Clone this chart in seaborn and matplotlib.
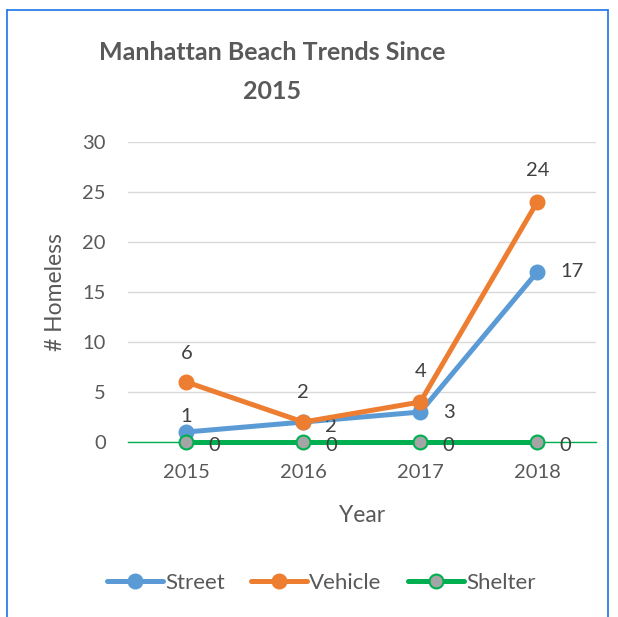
import matplotlib
matplotlib.use("Agg")
import matplotlib.pyplot as plt
import seaborn as sns
from matplotlib.lines import Line2D

years = ["2015", "2016", "2017", "2018"]
street = [1, 2, 3, 17]
vehicle = [6, 2, 4, 24]
shelter = [0, 0, 0, 0]

# label offsets in pixels (dx, dy) per point
street_offsets = [(0, 16), (28, -4), (29, 0), (35, 0)]
vehicle_offsets = [(0, 29), (0, 30), (0, 31), (0, 31)]
shelter_offsets = [(28, -3), (28, -3), (28, -3), (28, -3)]

sns.set_theme(style="white")
plt.rcParams["font.family"] = ["Lato", "DejaVu Sans"]

fig = plt.figure(figsize=(6.18, 6.17), dpi=100)
ax = fig.add_axes([0.207, 0.2836, 0.757, 0.4863])

text_col = "#595959"
x = list(range(len(years)))

series = [
    ("Street", street, "#5B9BD5", "#5B9BD5", "#5B9BD5", street_offsets),
    ("Vehicle", vehicle, "#ED7D31", "#ED7D31", "#ED7D31", vehicle_offsets),
    ("Shelter", shelter, "#00B050", "#A5A5A5", "#00B050", shelter_offsets),
]

for name, vals, lc, mfc, mec, offs in series:
    sns.lineplot(x=x, y=vals, ax=ax, color=lc, linewidth=3.6, marker="o",
                 markersize=10, markerfacecolor=mfc, markeredgecolor=mec,
                 markeredgewidth=1.5, label=name, zorder=3, clip_on=False)
    for xi, v, (dx, dy) in zip(x, vals, offs):
        ax.annotate(str(v), (xi, v), xytext=(dx, dy), textcoords="offset pixels",
                    ha="center", va="center", fontsize=14.5, color="#404040")

ax.set_xlim(-0.5, 3.5)
ax.set_ylim(0, 30)
ax.set_yticks(range(0, 31, 5))
ax.set_xticks(x)
ax.set_xticklabels(years)
ax.yaxis.grid(True, color="#D9D9D9", linewidth=1)
ax.xaxis.grid(False)
for s in ["top", "right", "left"]:
    ax.spines[s].set_visible(False)
ax.spines["bottom"].set_color("#00B050")
ax.spines["bottom"].set_linewidth(1)
ax.tick_params(axis="x", length=0, labelsize=14.5, labelcolor=text_col, pad=16)
ax.tick_params(axis="y", length=0, labelsize=14.5, labelcolor=text_col, pad=16)
ax.set_xlabel("Year", fontsize=16.5, color=text_col, labelpad=17)
ax.set_ylabel("# Homeless", fontsize=16.5, color=text_col, labelpad=12)

fig.text(0.44, 1 - 72 / 617, "Manhattan Beach Trends Since\n2015", ha="center", va="center",
         fontsize=18, fontweight="bold", color=text_col, linespacing=1.8)

ax.legend(loc="center", ncol=3, frameon=False, fontsize=16, labelcolor=text_col,
          handlelength=2.5, handletextpad=0.1, columnspacing=1.2)
leg = ax.get_legend()
leg.set_bbox_to_anchor((0.52, 1 - 583 / 617), transform=fig.transFigure)

# chart border
bc = "#1A73E8"
fig.add_artist(Line2D([7 / 618, 7 / 618], [0, 1 - 10 / 617], transform=fig.transFigure, color=bc, linewidth=1.2))
fig.add_artist(Line2D([7 / 618, 608 / 618], [1 - 10 / 617, 1 - 10 / 617], transform=fig.transFigure, color=bc, linewidth=1.2))
fig.add_artist(Line2D([608 / 618, 608 / 618], [0, 1 - 10 / 617], transform=fig.transFigure, color=bc, linewidth=1.2))

fig.savefig("out.png", dpi=100)
